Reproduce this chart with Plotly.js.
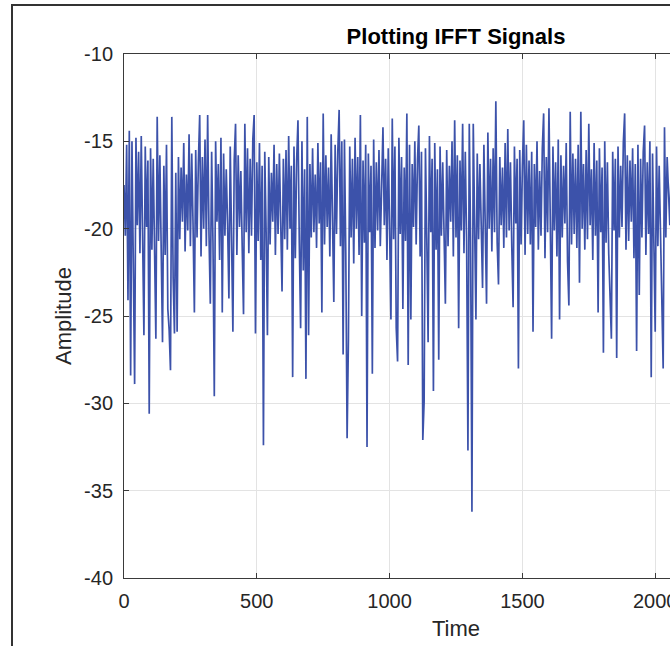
<!DOCTYPE html>
<html>
<head>
<meta charset="utf-8">
<script src="https://cdn.plot.ly/plotly-3.0.1.min.js"></script>
<style>
  html, body { margin: 0; padding: 0; width: 670px; height: 646px; overflow: hidden; background: #fff; }
  #frame { position: absolute; left: 11px; top: 4px; width: 2000px; height: 2000px; border: 2px solid #333; pointer-events: none; z-index: 5; }
  #chart { position: absolute; left: 0; top: 0; }
</style>
</head>
<body>
<div id="chart"></div>
<div id="frame"></div>
<script>
// Sample spacing along the Time axis (one value every 5 time units)
const sampleStep = 5;

// Amplitude values, in order of time (0, 5, 10, ...)
const amplitude = [
  -17.5,-20.4,-15.2,-24.1,-14.4,-28.4,-15.0,-20.6,-28.9,-14.8,-19.8,-15.6,-21.4,-14.7,-20.5,-26.1,-15.3,-19.9,-16.1,-30.6,
  -15.4,-21.2,-16.0,-21.9,-26.3,-13.6,-20.7,-15.8,-22.3,-26.5,-16.4,-21.5,-15.2,-24.6,-25.8,-28.1,-13.6,-22.8,-26.0,-16.8,
  -25.9,-15.9,-20.6,-16.5,-19.6,-15.1,-21.3,-16.9,-20.1,-14.6,-21.0,-15.7,-19.8,-24.8,-15.5,-20.5,-16.2,-13.5,-21.6,-15.9,
  -20.0,-14.9,-21.0,-13.5,-20.3,-24.3,-15.6,-20.8,-29.6,-15.0,-19.6,-16.3,-21.8,-14.8,-24.8,-15.7,-20.4,-16.6,-19.7,-24.0,
  -15.3,-20.9,-25.9,-16.1,-14.0,-21.5,-15.8,-19.9,-16.7,-21.0,-24.9,-14.0,-20.2,-15.4,-21.4,-16.0,-20.4,-14.9,-13.5,-26.0,
  -16.2,-20.7,-15.1,-21.8,-16.4,-32.4,-15.6,-20.1,-26.1,-15.9,-20.9,-16.8,-19.6,-15.2,-21.5,-16.3,-20.3,-15.7,-19.8,-23.6,
  -16.0,-20.6,-15.5,-21.2,-14.7,-20.0,-16.4,-28.5,-15.3,-21.7,-16.1,-13.8,-20.8,-25.7,-15.0,-22.4,-16.6,-28.6,-13.6,-26.1,
  -16.3,-20.5,-15.4,-20.2,-16.9,-21.1,-15.1,-19.7,-16.2,-24.8,-13.4,-20.9,-15.8,-19.9,-16.5,-21.6,-14.6,-20.4,-24.2,-15.2,
  -20.3,-15.6,-13.2,-21.0,-15.0,-27.2,-14.9,-21.4,-32.0,-26.3,-15.3,-20.5,-16.0,-22.0,-14.8,-20.0,-15.9,-21.5,-13.5,-25.0,
  -16.1,-20.8,-15.2,-32.5,-15.7,-20.2,-16.4,-28.3,-14.9,-21.1,-16.2,-20.1,-15.5,-21.0,-16.8,-14.2,-19.8,-16.0,-21.8,-15.4,
  -20.0,-25.2,-13.7,-20.6,-15.3,-25.7,-27.6,-14.8,-20.3,-15.9,-24.6,-16.5,-20.7,-13.4,-27.8,-15.2,-25.2,-16.3,-19.9,-15.0,
  -20.9,-16.1,-14.1,-21.6,-15.6,-32.1,-29.9,-15.4,-20.5,-26.5,-14.7,-20.2,-16.0,-29.3,-15.1,-21.2,-16.6,-27.5,-15.3,-20.4,
  -16.2,-20.0,-24.3,-15.5,-21.0,-16.4,-19.6,-15.0,-21.6,-13.8,-20.5,-15.8,-25.7,-16.1,-20.1,-14.0,-21.4,-15.6,-20.7,-32.7,
  -14.0,-20.8,-36.2,-14.0,-20.3,-25.2,-15.7,-20.6,-16.3,-19.6,-23.4,-15.2,-20.4,-24.3,-14.5,-20.0,-16.0,-21.3,-15.4,-20.2,
  -12.7,-20.8,-23.2,-15.9,-19.8,-16.5,-21.1,-15.1,-20.5,-14.3,-20.1,-16.2,-21.0,-24.5,-15.3,-19.7,-16.0,-28.0,-15.5,-20.9,
  -16.4,-13.8,-21.5,-15.2,-20.3,-16.1,-20.9,-15.6,-25.9,-16.3,-19.9,-15.0,-21.2,-16.7,-20.4,-15.4,-13.4,-21.7,-15.9,-20.2,
  -13.1,-20.7,-26.3,-15.3,-20.1,-16.2,-21.6,-14.9,-25.2,-15.8,-20.5,-16.4,-19.7,-15.1,-21.9,-24.4,-13.3,-20.9,-15.7,-20.3,
  -16.0,-21.1,-15.2,-23.1,-13.3,-20.0,-16.3,-21.2,-15.5,-20.6,-14.0,-19.8,-16.6,-21.8,-15.1,-20.4,-16.1,-24.8,-15.4,-20.2,
  -16.5,-27.1,-15.0,-20.8,-16.2,-21.4,-24.8,-26.3,-15.6,-20.1,-16.0,-27.4,-15.3,-20.5,-16.4,-19.9,-15.1,-13.4,-21.2,-15.8,
  -20.7,-16.1,-19.6,-15.4,-21.7,-16.3,-27.0,-15.2,-23.8,-16.0,-20.5,-15.6,-14.1,-21.5,-16.2,-20.3,-15.0,-28.5,-15.7,-20.6,
  -25.9,-15.3,-21.0,-16.4,-20.0,-25.0,-28.0,-14.2,-20.5,-15.9,-17.8,-19.8,-16.6
];

const time = amplitude.map((_, i) => i * sampleStep);

const xTicks = [0, 500, 1000, 1500, 2000, 2500];
const yTicks = [-10, -15, -20, -25, -30, -35, -40];

const chartTitle = 'Plotting IFFT Signals';
const xLabel = 'Time';
const yLabel = 'Amplitude';

const fontFamily = '"Liberation Sans", Arial, Helvetica, sans-serif';

const trace = {
  x: time,
  y: amplitude,
  type: 'scatter',
  mode: 'lines',
  line: { color: 'rgb(60,82,170)', width: 1.7 },
  hoverinfo: 'skip'
};

const axisCommon = {
  showline: true,
  linecolor: '#3a3a3a',
  linewidth: 1,
  mirror: 'ticks',
  ticks: 'inside',
  ticklen: 5,
  tickwidth: 1,
  tickcolor: '#3a3a3a',
  showgrid: true,
  gridcolor: '#e3e3e3',
  gridwidth: 1,
  zeroline: false,
  tickfont: { family: fontFamily, size: 20, color: '#262626' },
  fixedrange: true
};

const layout = {
  width: 900,
  height: 646,
  margin: { l: 124, r: 112, t: 54, b: 68 },
  paper_bgcolor: 'rgba(0,0,0,0)',
  plot_bgcolor: '#ffffff',
  showlegend: false,
  title: {
    text: '<b>' + chartTitle + '</b>',
    font: { family: fontFamily, size: 22, color: '#000000' },
    x: 0.5, xref: 'paper', xanchor: 'center',
    y: 1, yref: 'paper', yanchor: 'bottom',
    pad: { b: 10 }
  },
  xaxis: Object.assign({}, axisCommon, {
    range: [0, 2500],
    tickvals: xTicks,
    ticktext: xTicks.map(String),
    ticklabelstandoff: 5,
    title: { text: xLabel, font: { family: fontFamily, size: 22, color: '#262626' }, standoff: 9 }
  }),
  yaxis: Object.assign({}, axisCommon, {
    range: [-40, -10],
    tickvals: yTicks,
    ticktext: yTicks.map(String),
    ticklabelstandoff: 6,
    title: { text: yLabel, font: { family: fontFamily, size: 22, color: '#262626' }, standoff: 6 }
  })
};

Plotly.newPlot('chart', [trace], layout, { displayModeBar: false, staticPlot: true });
</script>
</body>
</html>
